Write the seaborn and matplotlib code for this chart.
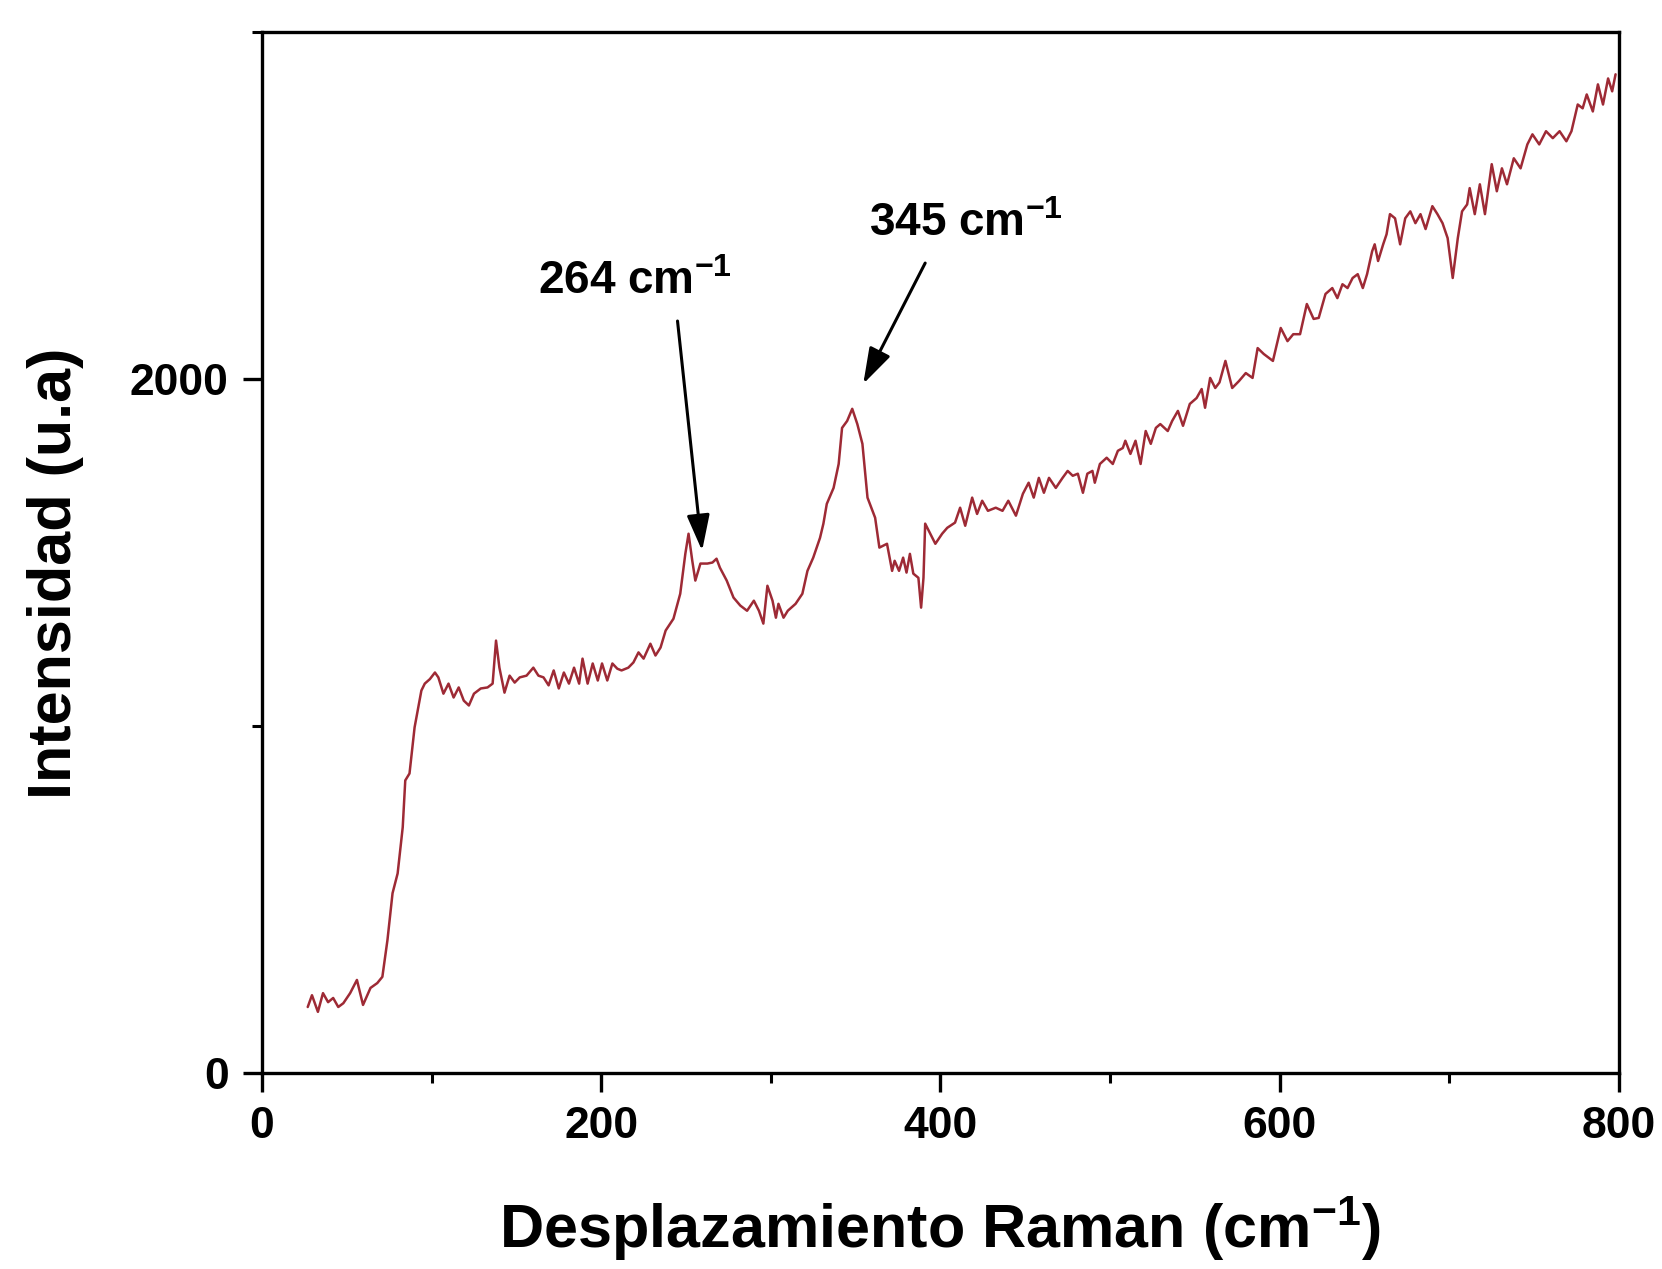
import matplotlib
matplotlib.use("Agg")
import matplotlib.pyplot as plt
from matplotlib.ticker import MultipleLocator
import seaborn as sns
import pandas as pd

# Raman spectrum: shift (cm^-1) and intensity (a.u.)
raman_shift = [
    27, 29.5, 33, 36, 39, 42, 45, 48, 52, 56, 59.6, 64, 68, 71, 74, 77, 80, 83, 84.5, 87,
    90, 94, 96, 99, 102, 104, 107, 110, 113, 116, 119, 122, 125, 129, 133, 136, 138, 140,
    143, 146, 149, 152, 156, 160, 163, 166, 169, 172, 175, 178, 181, 184, 187, 189, 192,
    195, 198, 200.5, 203.6, 206.6, 209.5, 212, 216, 219, 222, 225, 229, 232, 235, 238,
    242.6, 246.6, 249.6, 251.5, 253.7, 255.5, 258.5, 262.6, 265.6, 268, 270, 274, 278,
    282, 286, 290, 293, 295.6, 298, 301, 303, 304.5, 307.5, 310, 314.6, 318.6, 321.6,
    325, 329, 331, 333, 337, 340, 342, 345, 348, 351, 354, 357, 361.5, 364, 368.5, 371.5,
    373, 375.6, 378, 380, 382, 384, 387, 388.6, 390, 391, 394, 397, 401, 404, 408.6,
    411.6, 414.6, 418.7, 421.6, 424.6, 428, 432.6, 436.6, 440, 444.5, 448.6, 452, 455,
    458, 461, 464, 468, 472, 475, 478, 481, 484, 486.6, 489.6, 491, 494, 498, 501.6,
    504.6, 507.5, 509, 512, 515, 518, 521, 524, 527, 529.6, 534, 536.6, 540, 543, 547,
    551, 554, 556, 559, 562, 564.5, 568, 572, 576, 580, 584, 587, 590.6, 596, 600.6,
    604.6, 608, 612, 616, 620, 623, 627, 631, 634, 637, 640, 643, 646, 649, 651.5, 654.5,
    656, 658, 661, 663, 665, 668, 671, 674, 677, 680, 683, 686, 690, 693, 696, 699, 702,
    705, 707.5, 710.5, 712, 715, 718, 721, 725, 728, 731, 734, 738, 742, 746, 749, 753,
    757, 761, 765, 769, 772, 775.7, 778.6, 781, 784.6, 787.6, 790.6, 793.6, 796, 798,
]
intensity = [
    190, 224, 176, 230, 204, 216, 190, 201, 230, 268, 196, 245, 259, 277, 383, 518, 575,
    708, 843, 863, 996, 1102, 1122, 1135, 1154, 1140, 1093, 1122, 1082, 1111, 1073, 1059,
    1093, 1108, 1111, 1122, 1246, 1168, 1096, 1145, 1125, 1140, 1145, 1168, 1145, 1140,
    1117, 1160, 1108, 1154, 1122, 1168, 1122, 1194, 1122, 1180, 1131, 1180, 1131, 1180,
    1165, 1160, 1168, 1183, 1212, 1194, 1237, 1203, 1226, 1275, 1309, 1381, 1496, 1554,
    1476, 1419, 1468, 1468, 1471, 1482, 1456, 1419, 1370, 1347, 1332, 1361, 1332, 1295,
    1404, 1361, 1312, 1352, 1312, 1332, 1352, 1381, 1447, 1485, 1542, 1583, 1640, 1686,
    1755, 1859, 1879, 1914, 1870, 1813, 1658, 1600, 1514, 1525, 1447, 1476, 1447, 1485,
    1442, 1496, 1439, 1427, 1341, 1427, 1583, 1554, 1525, 1554, 1571, 1586, 1629, 1577,
    1658, 1611, 1649, 1620, 1629, 1620, 1649, 1606, 1669, 1701, 1658, 1715, 1672, 1715,
    1686, 1715, 1735, 1721, 1727, 1672, 1727, 1735, 1701, 1755, 1773, 1755, 1793, 1801,
    1822, 1784, 1822, 1755, 1850, 1813, 1859, 1870, 1850, 1879, 1908, 1865, 1928, 1945,
    1971, 1917, 2003, 1974, 1990, 2052, 1974, 1994, 2017, 2003, 2089, 2072, 2052, 2147,
    2109, 2129, 2129, 2216, 2173, 2176, 2245, 2262, 2233, 2273, 2262, 2291, 2302, 2262,
    2302, 2368, 2388, 2340, 2388, 2417, 2475, 2463, 2388, 2463, 2483, 2449, 2475, 2432,
    2498, 2475, 2449, 2406, 2291, 2406, 2483, 2503, 2550, 2475, 2561, 2475, 2619, 2541,
    2607, 2561, 2636, 2607, 2676, 2705, 2676, 2714, 2694, 2714, 2685, 2714, 2791, 2780,
    2820, 2771, 2849, 2791, 2866, 2829, 2878,
]

# Band labels and arrows (text position, arrow tail, arrow tip)
peak_labels = [r"264 cm$^{-1}$", r"345 cm$^{-1}$"]
label_xy = [(163, 2244), (358, 2411)]
arrow_tail = [(245, 2167), (391, 2334)]
arrow_tip = [(259.5, 1505), (354.5, 1986)]

x_ticks = [0, 200, 400, 600, 800]
y_ticks = [0, 2000]

sns.set_theme(style="ticks")
plt.rcParams["font.family"] = ["Liberation Sans", "DejaVu Sans"]
plt.rcParams["font.weight"] = "bold"
plt.rcParams["text.color"] = "black"
plt.rcParams["axes.labelcolor"] = "black"
plt.rcParams["xtick.color"] = "black"
plt.rcParams["ytick.color"] = "black"
plt.rcParams["mathtext.fontset"] = "custom"
plt.rcParams["mathtext.rm"] = "Liberation Sans:bold"
plt.rcParams["mathtext.it"] = "Liberation Sans:bold"
plt.rcParams["mathtext.bf"] = "Liberation Sans:bold"
plt.rcParams["mathtext.default"] = "rm"

df = pd.DataFrame({"shift": raman_shift, "intensity": intensity})

fig = plt.figure(figsize=(16.62, 12.69), dpi=100)
ax = fig.add_axes([0.1576, 0.1545, 0.9741 - 0.1576, 0.9748 - 0.1545])

sns.lineplot(data=df, x="shift", y="intensity", ax=ax, color="#9e2a35",
             linewidth=1.8, sort=False, estimator=None)

ax.set_xlim(0, 800)
ax.set_ylim(0, 3000)
ax.set_xticks(x_ticks)
ax.set_yticks(y_ticks)
ax.xaxis.set_minor_locator(MultipleLocator(100))
ax.yaxis.set_minor_locator(MultipleLocator(1000))

for side in ["left", "bottom", "right", "top"]:
    ax.spines[side].set_linewidth(2.4)
    ax.spines[side].set_color("black")

ax.tick_params(axis="both", which="major", direction="out", length=14, width=2.4,
               labelsize=32, pad=10, colors="black")
ax.tick_params(axis="both", which="minor", direction="out", length=7, width=2.2,
               colors="black")
ax.tick_params(top=False, right=False, which="both")
for lbl in ax.get_xticklabels() + ax.get_yticklabels():
    lbl.set_fontweight("bold")

ax.set_xlabel(r"Desplazamiento Raman (cm$^{-1}$)", fontsize=44, fontweight="bold",
              labelpad=34, color="black")
ax.set_ylabel("Intensidad (u.a)", fontsize=44, fontweight="bold", color="black")
ax.yaxis.set_label_coords(-0.131, 0.48)

for text, xy, tail, tip in zip(peak_labels, label_xy, arrow_tail, arrow_tip):
    ax.text(xy[0], xy[1], text, fontsize=33, fontweight="bold", ha="left",
            va="baseline", color="black")
    ax.annotate("", xy=tip, xytext=tail,
                arrowprops=dict(arrowstyle="-|>,head_length=1.1,head_width=0.35",
                                mutation_scale=20, lw=2.2, color="black",
                                shrinkA=0, shrinkB=0))

fig.savefig("out.png", dpi=100, facecolor="white")
